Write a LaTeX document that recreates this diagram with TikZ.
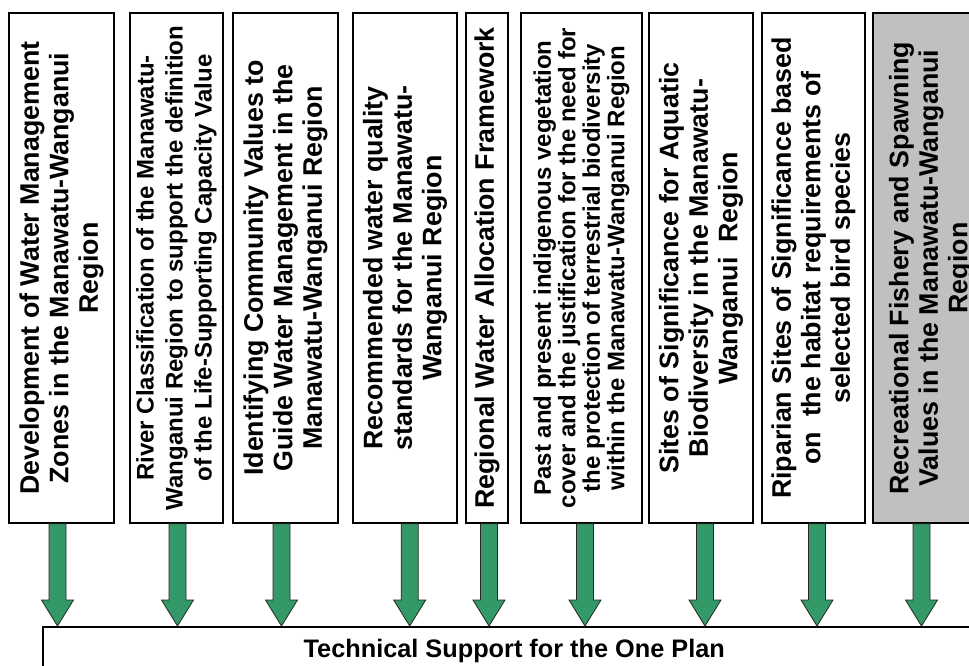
\documentclass[tikz,border=0pt]{standalone}
\usepackage{fontspec}
\setmainfont{Liberation Sans}
\usepackage{tikz}
\usetikzlibrary{calc}
\usepackage{xcolor}
\definecolor{flowgreen}{HTML}{339966}
\definecolor{boxgray}{HTML}{C0C0C0}

% block arrow from a box bottom down to a node top
\newcommand{\flowarrow}[2]{%
  \draw[flowline] let \p1=(#1), \p2=(#2) in
    (\x1-8.5pt,\y1) -- (\x1+8.5pt,\y1) -- (\x1+8.5pt,\y2+26pt)
    -- (\x1+16pt,\y2+26pt) -- (\x1,\y2) -- (\x1-16pt,\y2+26pt)
    -- (\x1-8.5pt,\y2+26pt) -- cycle;}

\begin{document}
\begin{tikzpicture}[
  x=1pt, y=-1pt,
  vbox/.style={draw, line width=1.5pt, fill=white, rotate=90, align=center, inner sep=0pt, minimum width=510pt, font=\bfseries\fontsize{26.8}{29.5}\selectfont},
  smalltext/.style={font=\bfseries\fontsize{24}{29}\selectfont},
  finetext/.style={font=\bfseries\fontsize{24}{24.5}\selectfont},
  techbox/.style={draw, line width=1.5pt, fill=white, anchor=north west, inner sep=0pt, minimum width=943pt, minimum height=49pt, font=\bfseries\fontsize{25.3}{28}\selectfont},
  flowline/.style={draw=black!85, line width=0.8pt, fill=flowgreen}
]
  \useasboundingbox (0,0) rectangle (969,665);

  % Studies
  \node[vbox, minimum height=105pt] (b1) at (61.5,268) {Development of Water Management\\Zones in the Manawatu-Wanganui\\Region};
  \node[vbox, smalltext, minimum height=93pt] (b2) at (176.5,268) {River Classification of the Manawatu-\\Wanganui Region to support the definition\\of the Life-Supporting Capacity Value};
  \node[vbox, minimum height=105pt] (b3) at (285.5,268) {Identifying Community Values to\\Guide Water Management in the\\Manawatu-Wanganui Region};
  \node[vbox, minimum height=104pt] (b4) at (405,268) {Recommended water quality\\standards for the Manawatu-\\Wanganui Region};
  \node[vbox, minimum height=42pt] (b5) at (487,268) {Regional Water Allocation Framework};
  \node[vbox, finetext, minimum height=121pt] (b6) at (581.5,268) {Past and present indigenous vegetation\\cover and the justification for the need for\\the protection of terrestrial biodiversity\\within the Manawatu-Wanganui Region};
  \node[vbox, minimum height=104pt] (b7) at (701,268) {Sites of Significance for Aquatic\\Biodiversity in the Manawatu-\\Wanganui\ \ Region};
  \node[vbox, minimum height=103pt] (b8) at (813.5,268) {Riparian Sites of Significance based\\on\ \ the habitat requirements of\\selected bird species};
  \node[vbox, fill=boxgray, minimum height=116pt] (b9) at (931,268) {Recreational Fishery and Spawning\\Values in the Manawatu-Wanganui\\Region};

  % One Plan
  \node[techbox] (tech) at (42,626) {Technical Support for the One Plan};

  % Arrows
  \foreach \i/\dx in {1/-4, 2/1, 3/-4, 4/4.7, 5/2, 6/3.5, 7/4, 8/3.5, 9/-9.5} {
    \flowarrow{[xshift=\dx pt]b\i.west}{tech.north}
  }
\end{tikzpicture}
\end{document}
